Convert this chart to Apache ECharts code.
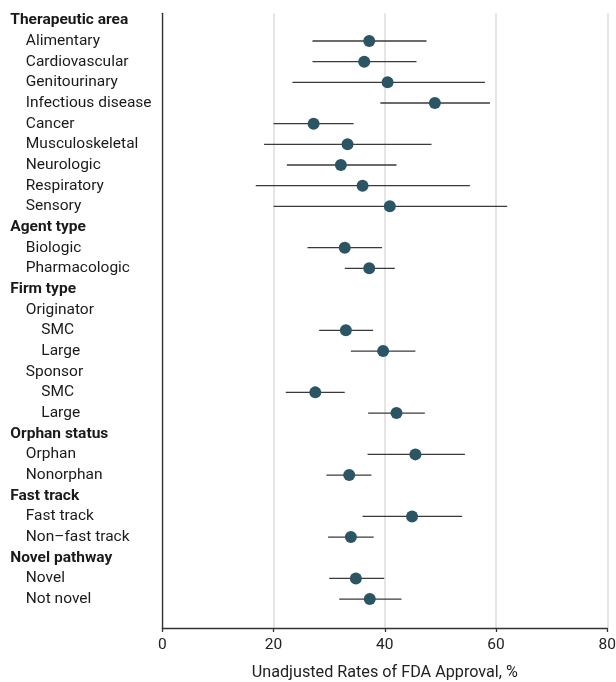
<!DOCTYPE html>
<html>
<head>
<meta charset="utf-8">
<script src="https://cdn.jsdelivr.net/npm/echarts@6/dist/echarts.min.js"></script>
<style>html,body{margin:0;padding:0;background:#fff}#c{width:616px;height:682px}</style>
</head>
<body>
<div id="c"></div>
<script>
const labels = ["Therapeutic area","Alimentary","Cardiovascular","Genitourinary","Infectious disease","Cancer","Musculoskeletal","Neurologic","Respiratory","Sensory","Agent type","Biologic","Pharmacologic","Firm type","Originator","SMC","Large","Sponsor","SMC","Large","Orphan status","Orphan","Nonorphan","Fast track","Fast track","Non–fast track","Novel pathway","Novel","Not novel"];
const levels = [0,1,1,1,1,1,1,1,1,1,0,1,1,0,1,2,2,1,2,2,0,1,1,0,1,1,0,1,1];
const estimate = [null,37.2,36.3,40.5,49.0,27.2,33.3,32.1,36.0,40.9,null,32.8,37.2,null,null,33.0,39.7,null,27.5,42.1,null,45.5,33.6,null,44.9,33.9,null,34.8,37.3];
const lower = [null,27.0,27.0,23.4,39.2,20.0,18.3,22.4,16.8,20.0,null,26.1,32.8,null,null,28.2,33.9,null,22.2,37.0,null,36.9,29.5,null,36.0,29.8,null,30.0,31.8];
const upper = [null,47.5,45.7,58.0,58.9,34.4,48.4,42.1,55.3,62.0,null,39.5,41.8,null,null,37.9,45.5,null,32.8,47.2,null,54.4,37.6,null,53.9,38.0,null,39.9,43.0];
const xTicks = [0,20,40,60,80];
const xTitle = "Unadjusted Rates of FDA Approval, %";

const FONT = "Roboto,sans-serif";
const FS = 15.5;
const rowIdx = labels.map((_, i) => i);
const points = [], bars = [];
rowIdx.forEach(i => {
  if (estimate[i] != null) points.push([estimate[i], i]);
  if (lower[i] != null) bars.push([lower[i], upper[i], i]);
});
const chart = echarts.init(document.getElementById('c'), null, {renderer: 'canvas'});
chart.setOption({
  animation: false,
  grid: {left: 162.3, right: 8.7, top: 13.3, bottom: 54, containLabel: false, outerBoundsMode: 'none'},
  xAxis: {
    type: 'value', min: xTicks[0], max: xTicks[xTicks.length-1], interval: 20,
    axisLine: {show: true, onZero: false, lineStyle: {color: '#333', width: 1.3}},
    axisTick: {show: true, length: 4, lineStyle: {color: '#333', width: 1.3}},
    axisLabel: {color: '#222', fontSize: 15.5, fontFamily: FONT, margin: 9},
    splitLine: {show: true, lineStyle: {color: '#dcdcdc', width: 1.5}},
    name: xTitle, nameLocation: 'middle', nameGap: 37,
    nameTextStyle: {color: '#222', fontSize: 16.2, fontFamily: FONT}
  },
  yAxis: {
    type: 'value', inverse: true, min: -0.34, max: 29.4,
    axisLine: {show: true, onZero: false, lineStyle: {color: '#333', width: 1.3}},
    axisTick: {show: false},
    splitLine: {show: false},
    axisLabel: {
      show: true, customValues: rowIdx, align: 'left', margin: 152,
      fontSize: FS, fontFamily: FONT, color: '#1a1a1a',
      formatter: v => {
        const i = Math.round(v);
        const t = labels[i];
        return levels[i] === 0 ? '{h|' + t + '}' : levels[i] === 1 ? '{a|' + t + '}' : '{b|' + t + '}';
      },
      rich: {
        h: {fontWeight: 'bold', fontSize: FS, fontFamily: FONT, color: '#1a1a1a'},
        a: {fontSize: FS, fontFamily: FONT, color: '#1a1a1a', padding: [0,0,0,15.5]},
        b: {fontSize: FS, fontFamily: FONT, color: '#1a1a1a', padding: [0,0,0,31]}
      }
    }
  },
  series: [
    {
      type: 'custom', data: bars, encode: {x: [0,1], y: 2},
      renderItem: (params, api) => {
        const a = api.coord([api.value(0), api.value(2)]);
        const b = api.coord([api.value(1), api.value(2)]);
        return {type: 'line', shape: {x1: a[0], y1: a[1], x2: b[0], y2: b[1]},
          style: {stroke: '#3a3a3a', lineWidth: 1.3}};
      },
      z: 2
    },
    {
      type: 'scatter', data: points, symbol: 'circle', symbolSize: 12,
      itemStyle: {color: '#2b5564', opacity: 1}, z: 3
    }
  ]
});
</script>
</body>
</html>
